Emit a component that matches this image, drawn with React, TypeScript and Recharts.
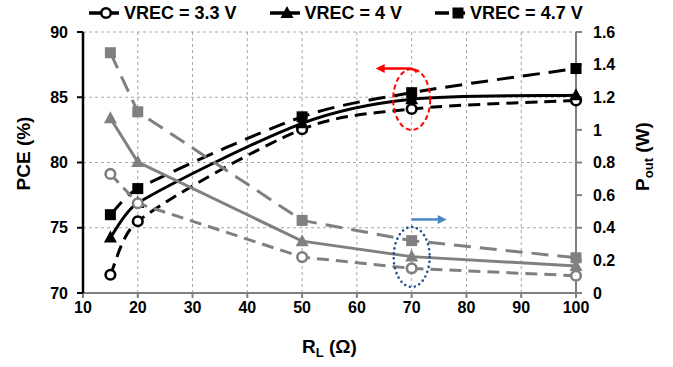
import React from 'react';
import { ComposedChart, Line, XAxis, YAxis, CartesianGrid, ReferenceDot } from 'recharts';

// ---- data ----
const resistance = [15, 20, 50, 70, 100];
const pce33 = [71.4, 75.5, 82.55, 84.1, 84.75];
const pce40 = [74.25, 76.9, 83.0, 84.85, 85.15];
const pce47 = [76.0, 78.0, 83.5, 85.35, 87.2];
const pout33 = [0.73, 0.55, 0.22, 0.151, 0.106];
const pout40 = [1.071, 0.803, 0.318, 0.223, 0.166];
const pout47 = [1.473, 1.111, 0.445, 0.321, 0.216];

const xTicks = [10, 20, 30, 40, 50, 60, 70, 80, 90, 100];
const pceTicks = [70, 75, 80, 85, 90];
const poutTicks = [0, 0.2, 0.4, 0.6, 0.8, 1, 1.2, 1.4, 1.6];
const seriesNames = ['VREC = 3.3 V', 'VREC = 4 V', 'VREC = 4.7 V'];

const annotPce = { x: 70, y: 84.83 };
const annotPout = { x: 70, y: 0.221 };

const data = resistance.map((r, i) => ({
  r,
  pce33: pce33[i],
  pce40: pce40[i],
  pce47: pce47[i],
  pout33: pout33[i],
  pout40: pout40[i],
  pout47: pout47[i],
}));

const FONT = '"Liberation Sans", Arial, sans-serif';
const BLACK = '#000000';
const GRAY = '#808080';

type Kind = 'circle' | 'triangle' | 'square';

const series: { name: string; pceKey: string; poutKey: string; kind: Kind; dash?: string }[] = [
  { name: seriesNames[0], pceKey: 'pce33', poutKey: 'pout33', kind: 'circle', dash: '12 7' },
  { name: seriesNames[1], pceKey: 'pce40', poutKey: 'pout40', kind: 'triangle', dash: undefined },
  { name: seriesNames[2], pceKey: 'pce47', poutKey: 'pout47', kind: 'square', dash: '17 9' },
];

// Excel-like smoothed line: Catmull-Rom tangents, control length capped at 1/3 of the segment
function excelSmooth(context: any) {
  let pts: [number, number][] = [];
  const ctrl = (from: [number, number], dx: number, dy: number, segLen: number, sign: number): [number, number] => {
    const d = Math.hypot(dx, dy);
    if (d === 0) return from;
    const L = Math.min(d / 6, segLen / 3);
    return [from[0] + (sign * dx * L) / d, from[1] + (sign * dy * L) / d];
  };
  return {
    areaStart() {},
    areaEnd() {},
    lineStart() {
      pts = [];
    },
    point(x: number, y: number) {
      pts.push([+x, +y]);
    },
    lineEnd() {
      const n = pts.length;
      if (n === 0) return;
      context.moveTo(pts[0][0], pts[0][1]);
      for (let i = 0; i < n - 1; i++) {
        const p0 = pts[Math.max(i - 1, 0)];
        const p1 = pts[i];
        const p2 = pts[i + 1];
        const p3 = pts[Math.min(i + 2, n - 1)];
        const seg = Math.hypot(p2[0] - p1[0], p2[1] - p1[1]);
        const c1 = ctrl(p1, p2[0] - p0[0], p2[1] - p0[1], seg, 1);
        const c2 = ctrl(p2, p3[0] - p1[0], p3[1] - p1[1], seg, -1);
        context.bezierCurveTo(c1[0], c1[1], c2[0], c2[1], p2[0], p2[1]);
      }
    },
  };
}

function Marker({ kind, cx, cy, color }: { kind: Kind; cx?: number; cy?: number; color: string }) {
  if (cx == null || cy == null || isNaN(cx) || isNaN(cy)) return null;
  if (kind === 'circle')
    return <circle cx={cx} cy={cy} r={4.8} fill="#ffffff" stroke={color} strokeWidth={2.6} />;
  if (kind === 'triangle')
    return <polygon points={`${cx},${cy - 7} ${cx + 6.5},${cy + 5} ${cx - 6.5},${cy + 5}`} fill={color} />;
  return <rect x={cx - 5.5} y={cy - 5.5} width={11} height={11} fill={color} />;
}

const fmt = (v: number) => String(Number(v.toFixed(1)));

const XTitle = (props: any) => {
  const vb = props.viewBox || {};
  const cx = vb.x + vb.width / 2;
  return (
    <text x={cx} y={vb.y + 60} textAnchor="middle" fontFamily={FONT} fontWeight="bold" fontSize={19} fill="#000">
      R<tspan dy={4} fontSize={13}>L</tspan>
      <tspan dy={-4}> (Ω)</tspan>
    </text>
  );
};

const LeftTitle = (props: any) => {
  const vb = props.viewBox || {};
  const x = vb.x + 30;
  const y = vb.y + vb.height / 2 - 9;
  return (
    <text x={x} y={y} transform={`rotate(-90, ${x}, ${y})`} textAnchor="middle" fontFamily={FONT} fontWeight="bold" fontSize={19} fill="#000">
      PCE (%)
    </text>
  );
};

const RightTitle = (props: any) => {
  const vb = props.viewBox || {};
  const x = vb.x + 73;
  const y = vb.y + vb.height / 2 - 6;
  return (
    <text x={x} y={y} transform={`rotate(-90, ${x}, ${y})`} textAnchor="middle" fontFamily={FONT} fontWeight="bold" fontSize={19} fill="#000">
      P<tspan dy={4} fontSize={13}>out</tspan>
      <tspan dy={-4}> (W)</tspan>
    </text>
  );
};

const RedAnnotation = (props: any) => {
  const { cx, cy } = props;
  if (cx == null || cy == null) return null;
  const ay = cy - 31;
  return (
    <g>
      <ellipse cx={cx} cy={cy} rx={18.5} ry={30.5} fill="none" stroke="#ff0000" strokeWidth={2} strokeDasharray="5 3" />
      <path d={`M ${cx + 5} ${cy - 27} Q ${cx + 3} ${ay} ${cx - 3} ${ay} L ${cx - 28} ${ay}`} fill="none" stroke="#ff0000" strokeWidth={2.5} />
      <polygon points={`${cx - 36},${ay} ${cx - 27},${ay - 4.5} ${cx - 27},${ay + 4.5}`} fill="#ff0000" />
    </g>
  );
};

const BlueAnnotation = (props: any) => {
  const { cx, cy } = props;
  if (cx == null || cy == null) return null;
  const ay = cy - 37.5;
  return (
    <g>
      <ellipse cx={cx} cy={cy} rx={18} ry={30} fill="none" stroke="#1f4e8c" strokeWidth={2.6} strokeDasharray="0 5" strokeLinecap="round" />
      <path d={`M ${cx} ${ay} L ${cx + 27} ${ay}`} fill="none" stroke="#4a86c8" strokeWidth={2.5} />
      <polygon points={`${cx + 35},${ay} ${cx + 26},${ay - 4.5} ${cx + 26},${ay + 4.5}`} fill="#4a86c8" />
    </g>
  );
};

function LegendBar() {
  return (
    <div
      style={{
        position: 'absolute',
        top: 4,
        left: 88,
        display: 'flex',
        alignItems: 'center',
        gap: 32,
        fontFamily: FONT,
        fontWeight: 'bold',
        fontSize: 18,
        lineHeight: '18px',
        color: '#000',
        whiteSpace: 'nowrap',
      }}
    >
      {series.map((s) => (
        <div key={s.name} style={{ display: 'flex', alignItems: 'center' }}>
          <svg width={32} height={18} style={{ display: 'block' }}>
            <line x1={1} y1={9} x2={31} y2={9} stroke={BLACK} strokeWidth={3.5} strokeDasharray={s.kind === 'square' ? '14 4' : undefined} />
            <Marker kind={s.kind} cx={s.kind === 'square' ? 24 : 18} cy={9} color={BLACK} />
          </svg>
          <span style={{ marginLeft: 4 }}>{s.name}</span>
        </div>
      ))}
    </div>
  );
}

export default function App() {
  return (
    <div style={{ position: 'absolute', left: 0, top: 0, width: 673, height: 367, background: '#fff' }}>
      <ComposedChart width={673} height={367} data={data} margin={{ top: 32, right: 0, bottom: 0, left: 0 }}>
        <CartesianGrid yAxisId="pce" stroke="#a6a6a6" strokeDasharray="3 3" strokeWidth={1} />
        <XAxis
          dataKey="r"
          type="number"
          domain={[10, 100]}
          ticks={xTicks}
          interval={0}
          height={74}
          axisLine={{ stroke: GRAY, strokeWidth: 2 }}
          tickLine={{ stroke: GRAY, strokeWidth: 2 }}
          tickSize={5}
          tickMargin={4}
          tick={{ fill: '#000', fontFamily: FONT, fontWeight: 'bold', fontSize: 16 }}
          label={<XTitle />}
        />
        <YAxis
          yAxisId="pce"
          orientation="left"
          domain={[70, 90]}
          ticks={pceTicks}
          interval={0}
          width={83}
          axisLine={{ stroke: BLACK, strokeWidth: 2.5 }}
          tickLine={{ stroke: BLACK, strokeWidth: 2 }}
          tickSize={6}
          tickMargin={9}
          tick={{ fill: '#000', fontFamily: FONT, fontWeight: 'bold', fontSize: 16 }}
          label={<LeftTitle />}
        />
        <YAxis
          yAxisId="p"
          orientation="right"
          domain={[0, 1.6]}
          ticks={poutTicks}
          interval={0}
          width={97}
          axisLine={{ stroke: GRAY, strokeWidth: 2 }}
          tickLine={{ stroke: GRAY, strokeWidth: 2 }}
          tickSize={6}
          tickMargin={11}
          tickFormatter={fmt}
          tick={{ fill: '#000', fontFamily: FONT, fontWeight: 'bold', fontSize: 16 }}
          label={<RightTitle />}
        />
        {series.map((s) => (
          <Line
            key={s.pceKey}
            yAxisId="pce"
            dataKey={s.pceKey}
            name={s.name}
            type={excelSmooth as any}
            stroke={BLACK}
            strokeWidth={3}
            strokeDasharray={s.dash}
            isAnimationActive={false}
            dot={(p: any) => <Marker key={`${s.pceKey}-${p.index}`} kind={s.kind} cx={p.cx} cy={p.cy} color={BLACK} />}
            activeDot={false}
          />
        ))}
        {series.map((s) => (
          <Line
            key={s.poutKey}
            yAxisId="p"
            dataKey={s.poutKey}
            name={s.name}
            type="linear"
            stroke={GRAY}
            strokeWidth={3}
            strokeDasharray={s.dash}
            isAnimationActive={false}
            dot={(p: any) => <Marker key={`${s.poutKey}-${p.index}`} kind={s.kind} cx={p.cx} cy={p.cy} color={GRAY} />}
            activeDot={false}
          />
        ))}
        <ReferenceDot yAxisId="pce" x={annotPce.x} y={annotPce.y} shape={RedAnnotation} />
        <ReferenceDot yAxisId="p" x={annotPout.x} y={annotPout.y} shape={BlueAnnotation} />
      </ComposedChart>
      <LegendBar />
    </div>
  );
}
